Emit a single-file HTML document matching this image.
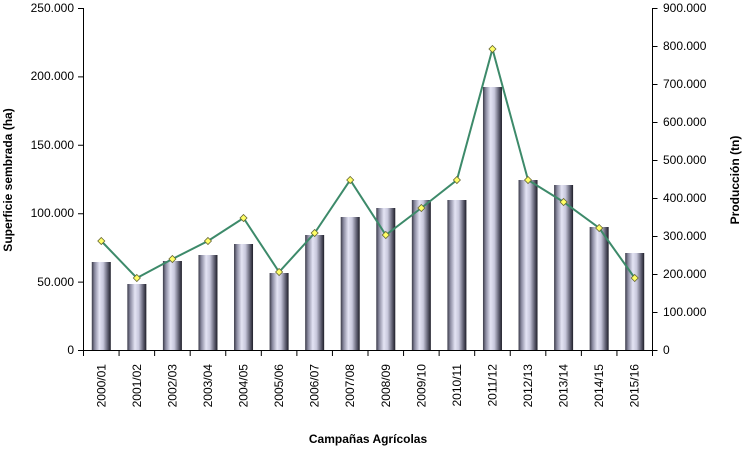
<!DOCTYPE html>
<html><head><meta charset="utf-8"><style>html,body{margin:0;padding:0;background:#fff}svg{display:block}text{font-family:"Liberation Sans",Arial,sans-serif;fill:#000}</style></head><body>
<svg width="746" height="450" viewBox="0 0 746 450" xmlns="http://www.w3.org/2000/svg">
<defs><linearGradient id="g" x1="0" x2="1" y1="0" y2="0">
<stop offset="0" stop-color="#3a3a48"/><stop offset="0.15" stop-color="#8a8aa0"/><stop offset="0.4" stop-color="#e4e4f4"/><stop offset="0.6" stop-color="#c8c8dc"/><stop offset="0.85" stop-color="#5a5a6c"/><stop offset="1" stop-color="#1e1e28"/></linearGradient></defs>
<g id="bars"></g>
<g font-size="12" text-anchor="end">
<text x="74" y="354">0</text><text x="74" y="286">50.000</text><text x="74" y="217">100.000</text><text x="74" y="149">150.000</text><text x="74" y="80">200.000</text><text x="74" y="12">250.000</text>
</g>
<g font-size="12">
<text x="663" y="354">0</text><text x="663" y="316">100.000</text><text x="663" y="278">200.000</text><text x="663" y="240">300.000</text><text x="663" y="202">400.000</text><text x="663" y="164">500.000</text><text x="663" y="126">600.000</text><text x="663" y="88">700.000</text><text x="663" y="50">800.000</text><text x="663" y="12">900.000</text>
</g>
<text font-size="12" font-weight="bold" transform="translate(12,180) rotate(-90)" text-anchor="middle">Superficie sembrada (ha)</text>
<text font-size="12" font-weight="bold" transform="translate(739,180) rotate(-90)" text-anchor="middle">Producción (tn)</text>
<text font-size="12" font-weight="bold" x="368" y="443" text-anchor="middle">Campañas Agrícolas</text>
<g id="ax" stroke="#000" stroke-width="1" fill="none"></g>
<g id="lbl" font-size="12"></g>
<g id="ln"></g>
</svg>
<script>
var bt=[262,284,261,255,244,273,235,217,208,200,200,87,180,185,227,253];
var lp=[241,278,259,241,218,272,233,180,235,208,180,49,180,202,228,278];
var labs=["2000/01","2001/02","2002/03","2003/04","2004/05","2005/06","2006/07","2007/08","2008/09","2009/10","2010/11","2011/12","2012/13","2013/14","2014/15","2015/16"];
var ns="http://www.w3.org/2000/svg",L=83.5,R=652.5,B=350.5,w=(R-L)/16;
function el(t,a,p){var e=document.createElementNS(ns,t);for(var k in a)e.setAttribute(k,a[k]);document.getElementById(p).appendChild(e);return e;}
var pts=[];
for(var i=0;i<16;i++){var c=L+w*(i+0.5);
el("rect",{x:c-9.5,y:bt[i],width:19,height:350-bt[i],fill:"url(#g)"},"bars");
pts.push(c+","+lp[i]);
var t=el("text",{transform:"translate("+(c+4)+",364) rotate(-90)","text-anchor":"end"},"lbl");t.textContent=labs[i];}
var d="M"+L+",8V"+B+"H"+R+"V8";
for(var j=0;j<=5;j++){var y=350.5-j*68.4;d+="M78,"+y+"H"+L;}
for(var j=0;j<=9;j++){var y=350.5-j*38;d+="M"+R+","+y+"H"+(R+5);}
for(var i=0;i<=16;i++){var x=L+w*i;d+="M"+x+","+B+"V356";}
el("path",{d:d},"ax");
el("polyline",{points:pts.join(" "),fill:"none",stroke:"#3d8a6a","stroke-width":2},"ln");
for(var i=0;i<16;i++){var c=L+w*(i+0.5),y=lp[i];
el("path",{d:"M"+c+","+(y-3.5)+"L"+(c+3.5)+","+y+"L"+c+","+(y+3.5)+"L"+(c-3.5)+","+y+"Z",fill:"#ffff66",stroke:"#666633","stroke-width":0.8},"ln");}
</script>
</body></html>
